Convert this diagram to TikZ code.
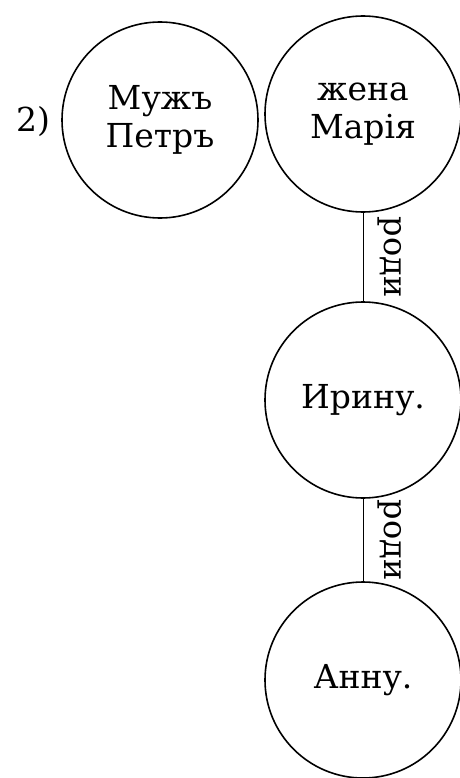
\documentclass[tikz,border=0pt]{standalone}
\usepackage{fontspec}
\setmainfont{DejaVu Serif}
\usepackage{tikz}
\tikzset{
  person/.style={draw,circle,line width=1.6pt,minimum size=196pt,inner sep=0pt,
    align=center,font=\fontsize{33}{38}\selectfont},
  kin/.style={draw=none,rotate=-90,anchor=south,inner sep=14pt,
    font=\fontsize{32}{38}\selectfont}
}

\begin{document}
\begin{tikzpicture}[x=1pt,y=1pt]
    \useasboundingbox (0,0) rectangle (459,-778);
    \node[font=\fontsize{33}{38}\selectfont] (num) at (33,-122) {2)};
    \node[person] (husband) at (160,-120) {Мужъ\\Петръ};
    \node[person] (wife) at (363,-114) {жена\\Марія};
    \node[person] (irina) at (363,-400) {Ирину.};
    \node[person] (anna) at (363,-680) {Анну.};
    \draw[line width=0.8pt] (wife) -- node[kin] {роди} (irina);
    \draw[line width=0.8pt] (irina) -- node[kin] {роди} (anna);
\end{tikzpicture}
\end{document}
